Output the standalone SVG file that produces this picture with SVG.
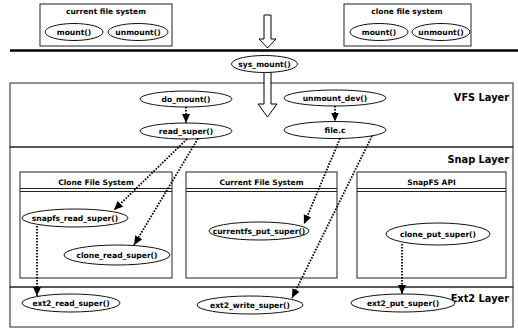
<svg xmlns="http://www.w3.org/2000/svg" width="518" height="328" viewBox="0 0 518 328">
<style>
.bg{fill:#fff}
.box{fill:none;stroke:#222;stroke-width:1}
.n{fill:#fff;stroke:#111;stroke-width:1}
.t{font-family:"DejaVu Sans","Liberation Sans",sans-serif;font-weight:bold;font-size:7.6px;text-anchor:middle;fill:#000}
.h{font-family:"DejaVu Sans","Liberation Sans",sans-serif;font-weight:bold;font-size:7.5px;text-anchor:middle;fill:#000}
.L{font-family:"DejaVu Sans","Liberation Sans",sans-serif;font-weight:bold;font-size:9.8px;text-anchor:end;fill:#000}
.c{fill:none;stroke:#000;stroke-width:1.8;stroke-dasharray:1.6 1.4;marker-end:url(#ah)}
.hol{fill:#fff;stroke:#000;stroke-width:1}
</style>
<defs>
<marker id="ah" markerUnits="userSpaceOnUse" markerWidth="10" markerHeight="10" refX="9" refY="4" orient="auto">
<path d="M0,0 L9,4 L0,8 Z" fill="#000"/>
</marker>
</defs>
<rect class="bg" x="0" y="0" width="518" height="328"/>

<!-- layers -->
<g id="vfs-layer">
<rect class="box" x="10" y="83" width="503" height="64"/>
<text class="L" x="509" y="101">VFS Layer</text>
</g>
<g id="snap-layer">
<rect class="box" x="10" y="147" width="503" height="140"/>
<text class="L" x="509" y="163">Snap Layer</text>
</g>
<g id="ext2-layer">
<rect class="box" x="10" y="287" width="503" height="40"/>
<text class="L" x="509" y="302">Ext2 Layer</text>
</g>

<!-- top file system boxes -->
<g id="current-fs-top">
<rect class="box" x="40" y="4" width="132" height="42"/>
<text class="h" x="106" y="14">current file system</text>
<ellipse class="n" cx="74" cy="32" rx="29" ry="8.5"/>
<text class="t" x="74" y="34.8">mount()</text>
<ellipse class="n" cx="138" cy="32" rx="30" ry="8.5"/>
<text class="t" x="138" y="34.8">unmount()</text>
</g>
<g id="clone-fs-top">
<rect class="box" x="344" y="4" width="127" height="42"/>
<text class="h" x="407" y="14">clone file system</text>
<ellipse class="n" cx="379" cy="32" rx="29" ry="8.5"/>
<text class="t" x="379" y="34.8">mount()</text>
<ellipse class="n" cx="441" cy="32" rx="29" ry="8.5"/>
<text class="t" x="441" y="34.8">unmount()</text>
</g>

<!-- hollow arrows and divider -->
<g id="hollow-arrows">
<path class="hol" d="M264,15 L271,15 L271,39 L276,39 L267.5,48 L259,39 L264,39 Z"/>
<path class="hol" d="M264,72 L271,72 L271,104 L277,104 L267.5,117 L258,104 L264,104 Z"/>
</g>
<line x1="10" y1="50.5" x2="518" y2="50.5" stroke="#000" stroke-width="2.5"/>

<g id="sys_mount">
<ellipse class="n" cx="264.5" cy="64" rx="33" ry="8.5"/>
<text class="t" x="264.5" y="66.8">sys_mount()</text>
</g>

<!-- VFS nodes -->
<g id="do_mount">
<ellipse class="n" cx="186" cy="99" rx="46" ry="8"/>
<text class="t" x="186" y="101.8">do_mount()</text>
</g>
<g id="read_super">
<ellipse class="n" cx="186" cy="131" rx="46" ry="8"/>
<text class="t" x="186" y="133.8">read_super()</text>
</g>
<g id="unmount_dev">
<ellipse class="n" cx="335" cy="98" rx="51" ry="8"/>
<text class="t" x="335" y="100.8">unmount_dev()</text>
</g>
<g id="file_c">
<ellipse class="n" cx="335" cy="130" rx="51" ry="8.5"/>
<text class="t" x="335" y="132.8">file.c</text>
</g>

<!-- snap layer inner boxes -->
<g id="clone-fs">
<rect class="box" x="20" y="172" width="152" height="106"/>
<text class="h" x="96" y="185">Clone File System</text>
<line x1="20" y1="188.5" x2="172" y2="188.5" stroke="#222" stroke-width="1"/>
<line x1="20" y1="191.5" x2="172" y2="191.5" stroke="#222" stroke-width="1"/>
</g>
<g id="current-fs">
<rect class="box" x="186" y="172" width="151" height="106"/>
<text class="h" x="261.5" y="185">Current File System</text>
<line x1="186" y1="188.5" x2="337" y2="188.5" stroke="#222" stroke-width="1"/>
<line x1="186" y1="191.5" x2="337" y2="191.5" stroke="#222" stroke-width="1"/>
</g>
<g id="snapfs-api">
<rect class="box" x="357" y="172" width="149" height="106"/>
<text class="h" x="431.5" y="185">SnapFS API</text>
<line x1="357" y1="188.5" x2="506" y2="188.5" stroke="#222" stroke-width="1"/>
<line x1="357" y1="191.5" x2="506" y2="191.5" stroke="#222" stroke-width="1"/>
</g>

<g id="snapfs_read_super">
<ellipse class="n" cx="75" cy="218" rx="53" ry="9"/>
<text class="t" x="75" y="220.8">snapfs_read_super()</text>
</g>
<g id="clone_read_super">
<ellipse class="n" cx="117" cy="255" rx="53" ry="10"/>
<text class="t" x="117" y="257.8">clone_read_super()</text>
</g>
<g id="currentfs_put_super">
<ellipse class="n" cx="259" cy="231" rx="50" ry="9"/>
<text class="t" x="259" y="233.8">currentfs_put_super()</text>
</g>
<g id="clone_put_super">
<ellipse class="n" cx="438" cy="234" rx="52" ry="11"/>
<text class="t" x="438" y="236.8">clone_put_super()</text>
</g>

<!-- ext2 nodes -->
<g id="ext2_read_super">
<ellipse class="n" cx="71" cy="303" rx="49" ry="9"/>
<text class="t" x="71" y="305.8">ext2_read_super()</text>
</g>
<g id="ext2_write_super">
<ellipse class="n" cx="250" cy="305" rx="53" ry="9"/>
<text class="t" x="250" y="307.8">ext2_write_super()</text>
</g>
<g id="ext2_put_super">
<ellipse class="n" cx="403" cy="303" rx="52" ry="9"/>
<text class="t" x="403" y="305.8">ext2_put_super()</text>
</g>

<!-- connectors -->
<g id="connectors">
<line class="c" x1="186" y1="107" x2="186" y2="123"/>
<line class="c" x1="335" y1="106" x2="335" y2="121.5"/>
<line class="c" x1="187" y1="139" x2="114" y2="210"/>
<line class="c" x1="198" y1="138.5" x2="134" y2="245"/>
<line class="c" x1="340" y1="138.5" x2="304" y2="224"/>
<line class="c" x1="372" y1="136" x2="292" y2="298"/>
<line class="c" x1="37" y1="226" x2="37" y2="296"/>
<line class="c" x1="402" y1="244" x2="402" y2="294"/>
</g>
</svg>
